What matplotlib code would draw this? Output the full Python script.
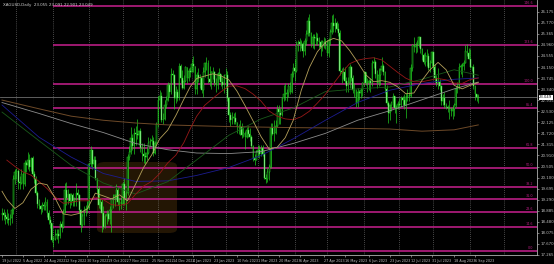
import numpy as np
import pandas as pd
import matplotlib
matplotlib.use('Agg')
import matplotlib.pyplot as plt
from matplotlib.patches import FancyBboxPatch
from matplotlib.transforms import blended_transform_factory

# XAGUSD daily bars, 19 Jul 2022 - 8 Sep 2023 (no bars on 26 Dec / 2 Jan)
first_day = '2022-07-19'
last_day = '2023-09-08'
holidays = ['2022-12-26', '2023-01-02']
first_open = 18.72

closes = [
    18.80, 18.72, 18.65, 18.60,
    18.55, 18.62, 18.90, 20.05, 20.30,
    20.35, 19.95, 19.90, 20.25, 19.85,
    20.65, 20.55, 20.75, 20.50, 20.80,
    20.25, 20.05, 19.55, 19.15, 19.05,
    18.95, 19.10, 19.05, 19.20, 18.80,
    18.55, 18.45, 17.80, 17.85, 18.00,
    18.05, 17.95, 18.40, 18.30, 18.80,
    19.65, 19.35, 19.50, 19.25, 19.45,
    19.25, 19.20, 19.55, 19.45, 18.90,
    18.35, 18.70, 18.90, 18.95, 19.00,
    20.60, 21.10, 20.60, 20.75, 20.10,
    19.70, 19.10, 19.20, 18.80, 18.30,
    18.70, 18.75, 18.60, 18.90, 19.30,
    19.30, 19.45, 19.65, 19.20, 19.20,
    19.15, 19.85, 19.35, 19.55, 20.85,
    21.05, 21.55, 21.25, 21.75, 21.70,
    21.65, 21.80, 21.20, 20.95, 20.90,
    20.85, 21.00, 21.35, 21.45, 21.45,
    21.00, 21.35, 22.05, 22.95, 23.10,
    22.20, 22.25, 22.75, 22.95, 23.50,
    23.25, 23.90, 23.85, 23.00, 23.25,
    23.00, 24.20, 23.75, 23.40, 23.65,
    24.15, 23.75, 24.00, 23.95,
    24.25, 24.20, 23.35, 23.85,
    23.75, 23.75, 23.30, 23.95, 24.30,
    24.30, 23.70, 23.60, 23.95, 23.95,
    23.55, 23.50, 23.90, 23.90, 23.60,
    23.50, 23.85, 23.85, 23.00, 22.40,
    22.20, 22.30, 22.30, 22.15, 21.95,
    21.95, 21.95, 21.65, 21.75, 21.60,
    21.85, 21.70, 21.60, 21.25, 20.80,
    20.75, 21.05, 21.10, 20.95, 21.20,
    20.95, 20.10, 20.05, 20.30, 20.50,
    21.90, 21.70, 21.75, 22.00, 22.60,
    22.50, 22.40, 23.00, 23.15, 23.15,
    23.20, 23.45, 23.25, 23.90, 24.10,
    24.00, 24.95, 25.05, 25.00, 25.00,
    24.75, 25.10, 25.35, 25.85, 25.40,
    25.00, 25.25, 25.20, 25.20, 25.10,
    25.05, 24.90, 25.05, 25.05, 25.00,
    24.65, 25.15, 25.45, 25.75, 25.65,
    25.75, 25.55, 25.40, 24.00, 23.95,
    23.95, 23.65, 23.45, 23.55, 24.15,
    23.75, 23.30, 23.30, 22.85, 23.25,
    23.20, 23.30, 23.55, 23.95, 23.55,
    23.55, 23.65, 23.55, 24.30, 24.35,
    23.90, 23.55, 23.85, 24.05, 24.20,
    23.95, 23.35, 22.85, 22.45, 22.75,
    22.85, 23.10, 22.65, 22.65, 22.80,
    22.75, 23.00, 22.95, 22.75, 23.05,
    23.10, 23.10, 24.10, 24.95, 24.90,
    24.95, 24.95, 25.25, 24.80, 24.60,
    24.35, 24.55, 24.55, 24.10, 24.30,
    24.70, 24.15, 23.75, 23.55, 23.60,
    23.45, 22.90, 23.00, 22.75, 22.70,
    22.65, 22.65, 22.55, 22.60, 22.75,
    23.35, 23.40, 24.15, 24.20, 24.20,
    24.30, 24.75, 24.65, 24.45, 24.15,
    24.15, 23.45, 23.15, 23.05, 23.049,
]

highs = [
    19.00, 18.95, 18.85, 18.95,
    18.80, 18.75, 19.00, 20.20, 20.40,
    20.45, 20.40, 20.15, 20.40, 20.30,
    20.75, 20.70, 21.05, 20.95, 20.85,
    20.90, 20.35, 20.15, 19.60, 19.30,
    19.10, 19.20, 19.20, 19.40, 19.30,
    18.90, 18.70, 18.45, 17.95, 18.20,
    18.20, 18.20, 18.50, 18.50, 18.95,
    19.90, 19.95, 19.70, 19.55, 19.55,
    19.55, 19.40, 19.90, 19.70, 19.50,
    18.95, 18.80, 19.05, 19.10, 19.25,
    20.65, 21.25, 21.05, 20.90, 20.90,
    20.10, 19.80, 19.35, 19.30, 19.05,
    18.75, 18.90, 18.85, 19.05, 19.35,
    19.50, 19.50, 19.85, 19.75, 19.35,
    19.40, 19.95, 20.10, 19.65, 20.95,
    21.25, 21.95, 21.70, 21.90, 22.00,
    22.25, 21.85, 21.90, 21.35, 21.35,
    21.05, 21.20, 21.60, 21.55, 21.65,
    21.60, 21.45, 22.15, 23.10, 23.30,
    23.25, 22.45, 22.95, 23.10, 23.60,
    23.55, 24.10, 24.05, 23.90, 23.45,
    23.35, 24.30, 24.25, 24.05, 23.85,
    24.20, 24.15, 24.10, 24.15,
    24.45, 24.55, 24.20, 23.95,
    24.10, 23.90, 23.80, 24.15, 24.35,
    24.50, 24.40, 24.20, 24.00, 24.15,
    24.00, 23.75, 23.95, 24.10, 23.90,
    23.80, 23.90, 24.10, 24.00, 23.05,
    22.50, 22.50, 22.45, 22.50, 22.15,
    22.05, 22.20, 22.10, 21.95, 21.80,
    21.95, 22.00, 21.90, 21.65, 21.30,
    20.95, 21.10, 21.30, 21.30, 21.30,
    21.30, 21.10, 20.25, 20.45, 20.60,
    22.10, 22.10, 22.20, 22.20, 22.75,
    22.75, 22.65, 23.05, 23.50, 23.55,
    23.35, 23.55, 23.60, 24.00, 24.30,
    24.45, 25.10, 25.15, 25.20, 25.15,
    25.05, 25.20, 25.50, 26.00, 26.10,
    25.45, 25.35, 25.35, 25.45, 25.40,
    25.25, 25.15, 25.15, 25.25, 25.20,
    25.15, 25.20, 25.55, 26.05, 26.10,
    25.95, 25.85, 25.75, 25.50, 24.10,
    24.15, 24.15, 23.80, 23.80, 24.25,
    24.20, 23.85, 23.55, 23.35, 23.40,
    23.30, 23.40, 23.60, 24.00, 23.95,
    23.75, 23.70, 23.75, 24.40, 24.50,
    24.40, 24.05, 24.10, 24.10, 24.50,
    24.25, 24.00, 23.50, 22.90, 22.80,
    22.90, 23.20, 23.10, 22.75, 22.90,
    23.00, 23.10, 23.10, 23.15, 23.20,
    23.35, 23.25, 24.25, 25.00, 25.25,
    25.05, 25.15, 25.30, 25.25, 24.85,
    24.65, 24.70, 24.80, 24.65, 24.40,
    24.75, 24.70, 24.25, 23.85, 24.10,
    23.70, 23.50, 23.15, 23.25, 22.85,
    22.75, 22.95, 22.70, 22.75, 22.85,
    23.45, 23.60, 24.30, 24.25, 24.30,
    24.40, 24.95, 25.00, 24.85, 24.80,
    24.20, 24.25, 23.50, 23.15, 23.15,
]

lows = [
    18.55, 18.55, 18.40, 18.45,
    18.35, 18.35, 18.45, 18.75, 19.85,
    20.05, 19.70, 19.70, 19.85, 19.70,
    19.80, 20.30, 20.40, 20.35, 20.35,
    20.15, 19.90, 19.45, 19.00, 18.95,
    18.75, 18.85, 18.90, 18.90, 18.65,
    18.40, 18.25, 17.75, 17.55, 17.80,
    17.85, 17.70, 17.90, 18.10, 18.25,
    18.80, 19.10, 19.15, 19.00, 19.10,
    19.05, 19.05, 19.05, 19.30, 18.80,
    18.10, 18.30, 18.35, 18.70, 18.80,
    18.95, 20.50, 20.40, 20.50, 20.00,
    19.55, 19.00, 18.95, 18.10, 18.20,
    18.25, 18.40, 18.50, 18.40, 18.10,
    19.00, 19.05, 19.30, 19.10, 18.90,
    18.95, 19.15, 19.10, 18.90, 19.45,
    20.75, 20.95, 21.10, 20.95, 21.30,
    21.50, 21.30, 21.05, 20.70, 20.65,
    20.60, 20.75, 20.95, 21.25, 21.30,
    20.90, 20.95, 21.25, 21.95, 22.65,
    22.15, 22.05, 22.20, 22.65, 22.90,
    23.05, 23.15, 23.55, 22.60, 22.85,
    22.90, 22.95, 23.55, 23.35, 23.35,
    23.60, 23.55, 23.65, 23.80,
    23.95, 23.95, 23.15, 23.15,
    23.60, 23.40, 23.20, 23.05, 23.80,
    24.05, 23.55, 23.45, 23.35, 23.70,
    23.45, 23.25, 23.35, 23.70, 23.45,
    23.35, 23.20, 23.40, 22.90, 22.15,
    22.00, 22.05, 22.05, 22.05, 21.75,
    21.70, 21.65, 21.55, 21.60, 21.15,
    21.55, 21.60, 21.45, 21.20, 20.70,
    20.55, 20.75, 20.85, 20.80, 20.90,
    20.90, 20.05, 19.90, 19.95, 20.00,
    20.45, 21.65, 21.45, 21.70, 21.95,
    22.05, 22.05, 22.35, 22.90, 22.95,
    22.90, 23.05, 23.15, 23.20, 23.80,
    23.65, 23.95, 24.75, 24.75, 24.85,
    24.50, 24.60, 24.95, 25.30, 25.30,
    24.90, 24.85, 24.80, 24.95, 24.95,
    24.85, 24.55, 24.75, 24.85, 24.80,
    24.55, 24.50, 24.95, 25.35, 25.45,
    25.45, 25.50, 25.30, 23.85, 23.55,
    23.70, 23.55, 23.25, 23.25, 23.40,
    23.65, 23.20, 23.05, 22.70, 22.70,
    22.95, 23.00, 23.10, 23.45, 23.50,
    23.25, 23.30, 23.25, 23.45, 24.10,
    23.75, 23.40, 23.45, 23.50, 24.00,
    23.85, 23.20, 22.75, 22.10, 22.20,
    22.55, 22.70, 22.45, 22.10, 22.60,
    22.65, 22.70, 22.75, 22.60, 22.30,
    22.90, 22.90, 23.05, 24.00, 24.70,
    24.65, 24.70, 24.90, 24.65, 24.40,
    24.25, 24.20, 24.20, 24.05, 23.95,
    24.20, 24.05, 23.60, 23.45, 23.35,
    23.30, 22.75, 22.75, 22.65, 22.60,
    22.50, 22.25, 22.35, 22.25, 22.35,
    22.70, 23.20, 23.35, 23.90, 23.80,
    24.05, 24.30, 24.55, 24.45, 24.10,
    24.00, 23.35, 22.95, 22.90, 22.85,
]

# moving averages sampled at each Friday close
ma_week_start = '2022-07-22'
sma20_first = 19.60   # value on the first bar
sma20 = [19.30, 18.97, 19.18, 19.67, 19.90, 19.84, 19.35, 18.77, 18.72, 18.79,
         18.95, 19.53, 19.43, 19.32, 19.47, 19.25, 19.86, 20.47, 20.93, 21.52,
         21.84, 22.37, 22.97, 23.43, 23.73, 23.82, 23.90, 23.83, 23.68, 23.27,
         22.74, 22.18, 21.60, 21.15, 21.21, 21.56, 22.20, 23.30, 24.13, 24.71,
         25.06, 25.20, 25.11, 24.76, 24.33, 23.87, 23.61, 23.65, 23.59, 23.42,
         23.17, 23.20, 23.66, 24.05, 24.32, 24.05, 23.48, 23.35, 23.48, 23.58]
sma50 = [20.74, 20.51, 20.31, 20.19, 19.96, 19.70, 19.39, 19.16, 19.19, 19.25,
         19.25, 19.39, 19.29, 19.11, 19.08, 19.15, 19.49, 19.79, 19.96, 20.25,
         20.64, 20.92, 21.38, 21.89, 22.35, 22.75, 23.00, 23.24, 23.45, 23.46,
         23.36, 23.16, 22.90, 22.54, 22.35, 22.25, 22.22, 22.33, 22.53, 22.83,
         23.15, 23.54, 23.93, 24.27, 24.40, 24.46, 24.49, 24.41, 24.18, 23.95,
         23.74, 23.61, 23.61, 23.67, 23.73, 23.68, 23.56, 23.55, 23.69, 23.75]

# slower averages, read roughly every four weeks
slow_dates = ['2022-07-19', '2022-08-19', '2022-09-16', '2022-10-14', '2022-11-11',
              '2022-12-09', '2023-01-06', '2023-02-03', '2023-03-03', '2023-03-31',
              '2023-04-28', '2023-05-26', '2023-06-23', '2023-07-21', '2023-08-18',
              '2023-09-08']
sma100 = [22.50, 21.45, 20.55, 19.90, 19.50, 19.95, 20.75, 21.65, 22.25, 22.65,
          23.25, 23.35, 23.42, 23.70, 24.05, 23.85]
sma150 = [22.76, 21.58, 20.85, 20.25, 19.96, 19.98, 20.18, 20.47, 20.91, 21.52,
          22.20, 22.85, 23.30, 23.55, 23.70, 23.75]
sma200 = [22.85, 22.45, 22.08, 21.75, 21.35, 21.12, 21.00, 20.98, 21.05, 21.35,
          21.72, 22.20, 22.55, 22.95, 23.35, 23.60]
sma365 = [22.94, 22.62, 22.35, 22.20, 22.10, 22.03, 22.00, 21.97, 21.95, 21.93,
          21.92, 21.90, 21.88, 21.80, 21.85, 22.03]

# horizontal levels drawn from the 1 Sep 2022 low
level_start = '2022-09-01'
levels = [26.39, 24.96, 23.53, 22.65, 21.18, 20.45, 19.75, 19.32, 18.84, 18.29, 17.42]
level_names = ['146.6', '123.6', '100.0', '85.4', '61.8', '50.0', '38.2', '31.0',
               '23.6', '14.6', '0.0']

price_ticks = [26.175, 25.770, 25.365, 24.960, 24.555, 24.150, 23.745, 23.340,
               22.935, 22.530, 22.125, 21.720, 21.315, 20.910, 20.505, 20.100,
               19.695, 19.290, 18.885, 18.480, 18.075, 17.670, 17.265]
date_labels = ['2022-07-19', '2022-08-05', '2022-08-24', '2022-09-12', '2022-09-30',
               '2022-10-19', '2022-11-07', '2022-11-25', '2022-12-14', '2023-01-04',
               '2023-01-23', '2023-02-10', '2023-03-01', '2023-03-20', '2023-04-06',
               '2023-04-27', '2023-05-16', '2023-06-06', '2023-06-23', '2023-07-12',
               '2023-07-31', '2023-08-18', '2023-09-06']
header = 'XAGUSD,Daily  23.055 23.091 22.901 23.049'


bars = pd.bdate_range(first_day, last_day).drop(pd.to_datetime(holidays))
n = len(bars)
x = np.arange(n)
c = np.array(closes)
h = np.array(highs)
l = np.array(lows)
o = np.r_[first_open, c[:-1]]

def bar_index(dates):
    return bars.get_indexer(pd.to_datetime(dates))

fig = plt.figure(figsize=(5.54, 2.64), dpi=100, facecolor='black')
ax = fig.add_axes([0, 9 / 264, 537 / 554, 255 / 264], facecolor='black')

x_left = -1.25
x_right = 332.5
ax.set_xlim(x_left, x_right)
ax.set_ylim(17.265, 26.605)

# watermark logo
logo = FancyBboxPatch((97 / 554, 31 / 264), 80 / 554, 71 / 264,
                      boxstyle='round,pad=0,rounding_size=0.015',
                      transform=fig.transFigure, fc='#3c2608', ec='none',
                      alpha=0.6, zorder=1)
ax.add_patch(logo)

# month grid
month_first = bars.to_series().groupby(bars.to_period('M')).idxmin().values[1:]
grid_x = list(bar_index(month_first))
grid_x.append(n - 1 + len(pd.bdate_range('2023-09-09', '2023-10-02')))
for gx in grid_x:
    ax.axvline(gx, color='#8c8c8c', lw=0.5, ls=(0, (1, 2)), zorder=2)

# levels
s = bar_index([level_start])[0]
ax.hlines(levels, s, x_right, color='#b81e84', lw=1.2, zorder=3)
for lv, name in zip(levels, level_names):
    ax.text(330, lv + 0.04, name, color='#b81e84', fontsize=2.4,
            ha='right', va='bottom', zorder=3)

# bid line
ax.axhline(c[-1], color='#6e6e6e', lw=0.6, zorder=3)

# candles
green = '#22dd22'
up = c >= o
ax.vlines(x, l, h, color=green, lw=0.45, zorder=4)
bottom = np.minimum(o, c)
height = np.maximum(np.abs(c - o), 0.015)
ax.bar(x[up], height[up], bottom=bottom[up], width=0.5, color='black',
       edgecolor=green, lw=0.35, zorder=5)
ax.bar(x[~up], height[~up], bottom=bottom[~up], width=0.5, color='#c8f0c8',
       edgecolor=green, lw=0.35, zorder=5)

# moving averages
week_x = bar_index(pd.date_range(ma_week_start, last_day, freq='W-FRI'))
slow_x = bar_index(slow_dates)
ax.plot(slow_x, sma365, color='#6e4a28', lw=0.7, zorder=6)
ax.plot(slow_x, sma200, color='#8c8c8c', lw=0.6, zorder=6)
ax.plot(slow_x, sma150, color='#1c1c90', lw=0.6, zorder=6)
ax.plot(slow_x, sma100, color='#1a5a1a', lw=0.6, zorder=6)
ax.plot(week_x, sma50, color='#961818', lw=0.6, zorder=6)
ax.plot(np.r_[0, week_x], [sma20_first] + sma20, color='#b4a05a', lw=0.6, zorder=6)

# axes
ax.yaxis.tick_right()
ax.set_yticks(price_ticks)
ax.set_yticklabels(['%.3f' % p for p in price_ticks])
ax.set_xticks(bar_index(date_labels))
ax.set_xticklabels([pd.Timestamp(d).strftime('%-d %b %Y') for d in date_labels])
for t in ax.get_xticklabels():
    t.set_horizontalalignment('left')
ax.tick_params(axis='y', colors='#a0a0a0', labelcolor='#c0c0c0',
               labelsize=2.8, length=1.5, width=0.5, pad=1.0)
ax.tick_params(axis='x', colors='#a0a0a0', labelcolor='#c0c0c0',
               labelsize=2.45, length=1.5, width=0.5, pad=1.2)
for side in ['top', 'left']:
    ax.spines[side].set_visible(False)
for side in ['right', 'bottom']:
    ax.spines[side].set_color('#b0b0b0')
    ax.spines[side].set_linewidth(0.6)

trans = blended_transform_factory(ax.transAxes, ax.transData)
ax.text(1.004, c[-1], '%.3f' % c[-1], transform=trans, fontsize=2.7,
        color='black', ha='left', va='center', clip_on=False, zorder=10,
        bbox=dict(fc='white', ec='none', pad=0.4))

fig.text(0.006, 0.988, header, fontsize=2.9, color='#d0d0d0', va='top', ha='left')

fig.savefig('out.png', dpi=100, facecolor='black')
